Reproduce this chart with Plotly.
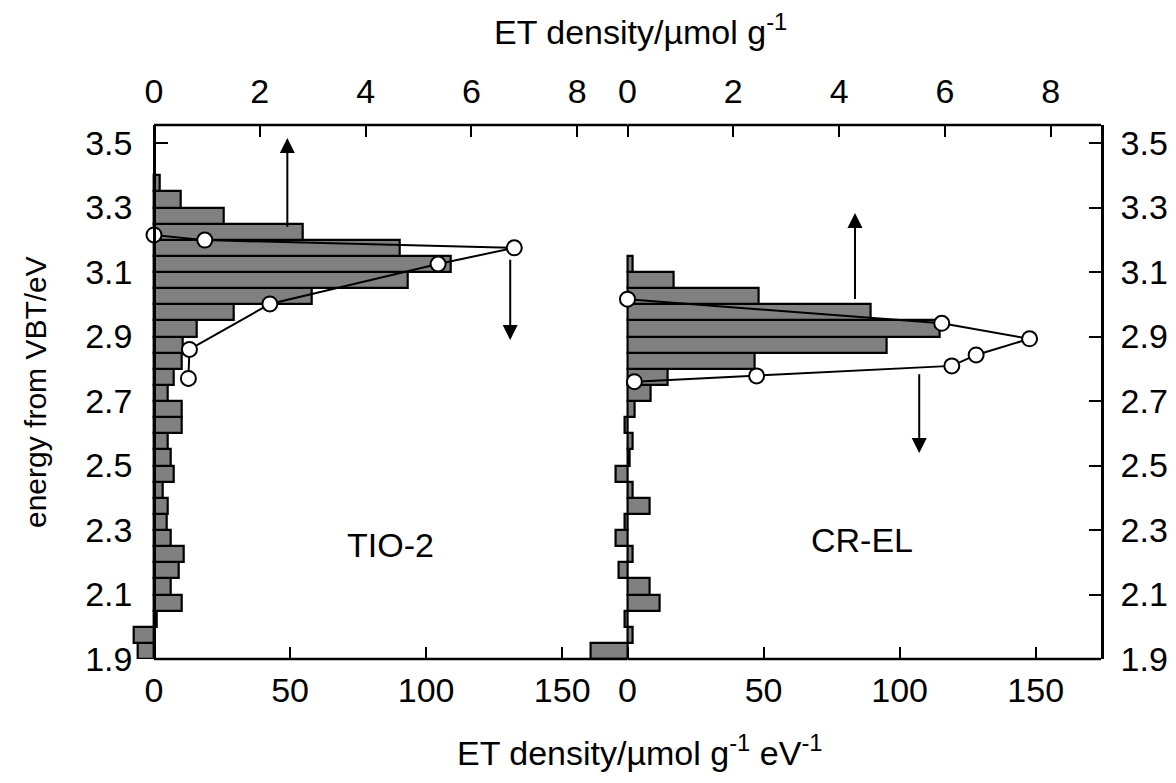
import plotly.graph_objects as go

# ---------------- data ----------------
# energy bins (lower edge, eV); bins are 0.05 eV wide
tio_bins = [1.90, 1.95, 2.00, 2.05, 2.10, 2.15, 2.20, 2.25, 2.30, 2.35,
            2.40, 2.45, 2.50, 2.55, 2.60, 2.65, 2.70, 2.75, 2.80, 2.85,
            2.90, 2.95, 3.00, 3.05, 3.10, 3.15, 3.20, 3.25, 3.30, 3.35]
tio_density = [-5.8, -7.6, 1.2, 10.2, 6.1, 9.1, 10.8, 6.1, 4.7, 5.0,
               3.1, 7.1, 6.1, 4.9, 10.2, 10.2, 5.0, 7.1, 10.2, 10.5,
               15.8, 29.4, 58.1, 93.4, 109.2, 90.4, 54.8, 25.7, 9.9, 2.2]

crel_bins = [1.90, 1.95, 2.00, 2.05, 2.10, 2.15, 2.20, 2.25, 2.30, 2.35,
             2.40, 2.45, 2.50, 2.55, 2.60, 2.65, 2.70, 2.75, 2.80, 2.85,
             2.90, 2.95, 3.00, 3.05, 3.10]
crel_density = [-13.5, 1.8, -1.2, 11.9, 8.0, -3.1, 1.8, -4.3, -1.2, 8.0,
                1.8, -4.3, 0.8, 1.8, -1.2, 2.8, 8.6, 14.7, 46.9, 95.3,
                114.8, 89.2, 48.1, 16.8, 1.8]

# total ET density (µmol/g) vs energy (line with open circles)
tio_line_E = [3.215, 3.199, 3.175, 3.125, 3.001, 2.860, 2.770]
tio_line_x = [0.0, 0.96, 6.81, 5.37, 2.19, 0.67, 0.65]
crel_line_E = [3.016, 2.941, 2.893, 2.843, 2.809, 2.778, 2.760]
crel_line_x = [0.0, 5.94, 7.60, 6.59, 6.13, 2.44, 0.13]

bin_width = 0.05
y_ticks = [1.9, 2.1, 2.3, 2.5, 2.7, 2.9, 3.1, 3.3, 3.5]
y_ticktext = ["1.9", "2.1", "2.3", "2.5", "2.7", "2.9", "3.1", "3.3", "3.5"]
bottom_ticks = [0, 50, 100, 150]
top_ticks = [0, 2, 4, 6, 8]

# ---------------- layout geometry ----------------
OFF = 8             # page body margin of the html output
W, H = 1176, 783
L0 = 154.0 - OFF    # px of zero, left panel
D = 627.5 - OFF     # px of divider (zero of right panel)
R = 1101.0 - OFF    # right frame
TOP = 125.0 - OFF
BOT = 659.0 - OFF
ML = 92
MR = W - R
MT = TOP
MB = H - BOT
PW = R - ML
PH = BOT - TOP
XMAX = 174.0
TOPMAX = 8.95
pxu = (D - L0) / XMAX
XMIN_L = -10.0
XMIN_R = -15.0
YMIN, YMAX = 1.9, 3.556

dom_left = [(L0 + XMIN_L * pxu - ML) / PW, (D - ML) / PW]
dom_right = [(D + XMIN_R * pxu - ML) / PW, 1.0]
k = TOPMAX / XMAX

FONT = "Liberation Sans, Arial, sans-serif"
FS = 34
LW = 2.5

fig = go.Figure()

bar_marker = dict(color="#808080", line=dict(color="black", width=2.2))
line_marker = dict(symbol="circle", size=15, color="white",
                   line=dict(color="black", width=2))

fig.add_trace(go.Bar(
    x=tio_density, y=[b + bin_width / 2 for b in tio_bins], width=bin_width,
    orientation="h", xaxis="x", yaxis="y", marker=bar_marker, showlegend=False))
fig.add_trace(go.Scatter(
    x=tio_line_x, y=tio_line_E, xaxis="x2", yaxis="y", mode="lines+markers",
    line=dict(color="black", width=2), marker=line_marker,
    showlegend=False, cliponaxis=False))

fig.add_trace(go.Bar(
    x=crel_density, y=[b + bin_width / 2 for b in crel_bins], width=bin_width,
    orientation="h", xaxis="x3", yaxis="y2", marker=bar_marker, showlegend=False))
fig.add_trace(go.Scatter(
    x=crel_line_x, y=crel_line_E, xaxis="x4", yaxis="y2", mode="lines+markers",
    line=dict(color="black", width=2), marker=line_marker,
    showlegend=False, cliponaxis=False))

tickfont = dict(family=FONT, size=FS, color="black")
common_x = dict(showgrid=False, zeroline=False, showline=False, ticks="inside",
                ticklen=12, tickwidth=2, tickcolor="black", tickfont=tickfont)
common_y = dict(showgrid=False, zeroline=False, showline=True, linecolor="black",
                linewidth=LW, ticks="inside", ticklen=12, tickwidth=2,
                tickcolor="black", tickfont=tickfont, range=[YMIN, YMAX],
                tickvals=y_ticks, ticktext=y_ticktext, domain=[0, 1])

fig.update_layout(
    width=W, height=H, margin=dict(l=ML, r=MR, t=MT, b=MB),
    paper_bgcolor="white", plot_bgcolor="rgba(0,0,0,0)",
    bargap=0, showlegend=False,
    font=dict(family=FONT, color="black"),
    xaxis=dict(domain=dom_left, range=[XMIN_L, XMAX], anchor="y",
               tickvals=bottom_ticks, ticklabelstandoff=8, **common_x),
    xaxis2=dict(domain=dom_left, range=[XMIN_L * k, TOPMAX], anchor="y",
                overlaying="x", side="top", tickvals=top_ticks,
                ticklabelstandoff=14, **common_x),
    xaxis3=dict(domain=dom_right, range=[XMIN_R, XMAX], anchor="y2",
                tickvals=bottom_ticks, ticklabelstandoff=8, **common_x),
    xaxis4=dict(domain=dom_right, range=[XMIN_R * k, TOPMAX], anchor="y2",
                overlaying="x3", side="top", tickvals=top_ticks,
                ticklabelstandoff=14, **common_x),
    yaxis=dict(anchor="free", position=(L0 - ML) / PW, side="left",
               ticklabelstandoff=14, **common_y),
    yaxis2=dict(anchor="x3", side="right", ticklabelstandoff=10, **common_y),
    yaxis3=dict(anchor="free", position=(D - ML) / PW, side="left",
                overlaying="y2", showticklabels=False, **common_y),
)

# frame top / bottom lines (in axis coords)
for xr in ["x", "x3"]:
    for yy in [0, 1]:
        fig.add_shape(type="line", xref=xr, yref="paper", x0=0, x1=XMAX,
                      y0=yy, y1=yy, line=dict(color="black", width=LW),
                      layer="above")

# arrows
arrow_style = dict(showarrow=True, text="", arrowhead=2, arrowsize=1.5,
                   arrowwidth=2, arrowcolor="black", standoff=0, startstandoff=0)
fig.add_annotation(x=49, y=3.516, ax=49, ay=3.236, xref="x", yref="y",
                   axref="x", ayref="y", **arrow_style)
fig.add_annotation(x=130.9, y=2.889, ax=130.9, ay=3.143, xref="x", yref="y",
                   axref="x", ayref="y", **arrow_style)
fig.add_annotation(x=83.6, y=3.283, ax=83.6, ay=3.012, xref="x3", yref="y2",
                   axref="x3", ayref="y2", **arrow_style)
fig.add_annotation(x=107.2, y=2.539, ax=107.2, ay=2.788, xref="x3", yref="y2",
                   axref="x3", ayref="y2", **arrow_style)

# panel labels
fig.add_annotation(x=86.8, y=2.253, xref="x", yref="y", text="TIO-2",
                   showarrow=False, font=dict(family=FONT, size=FS))
fig.add_annotation(x=86.2, y=2.269, xref="x3", yref="y2", text="CR-EL",
                   showarrow=False, font=dict(family=FONT, size=FS))

# axis titles (positions given in page px, converted to paper fractions)
def px_x(p):
    return (p - OFF - ML) / PW

def px_y(p):
    return (BOT - (p - OFF)) / PH

fig.add_annotation(x=px_x(640), y=px_y(30), xref="paper", yref="paper",
                   xanchor="center", yanchor="middle",
                   text="ET density/µmol g<sup>-1</sup>",
                   showarrow=False, font=dict(family=FONT, size=FS))
fig.add_annotation(x=px_x(640), y=px_y(750), xref="paper", yref="paper",
                   xanchor="center", yanchor="middle",
                   text="ET density/µmol g<sup>-1</sup> eV<sup>-1</sup>",
                   showarrow=False, font=dict(family=FONT, size=FS))
fig.add_annotation(x=px_x(35), y=px_y(392), xref="paper", yref="paper",
                   xanchor="center", yanchor="middle",
                   text="energy from VBT/eV", textangle=-90,
                   showarrow=False, font=dict(family=FONT, size=30))

fig.write_html("out.html")
